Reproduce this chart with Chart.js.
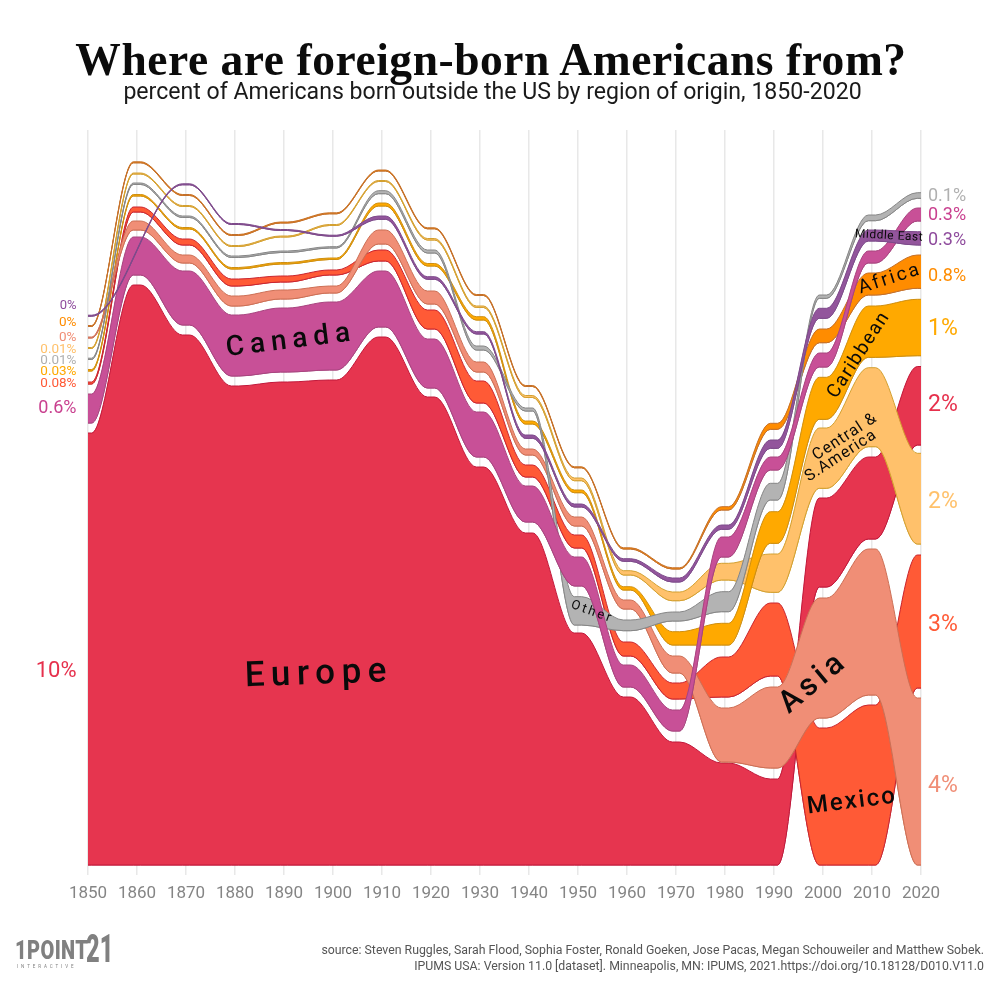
<!DOCTYPE html>
<html><head><meta charset="utf-8">
<style>
html,body{margin:0;padding:0;background:#fff;width:1000px;height:988px;overflow:hidden}
#c{position:absolute;left:0;top:0}
.t{position:absolute;white-space:nowrap}
#title{left:-9px;width:1000px;top:33px;text-align:center;font:bold 45.5px "Liberation Serif",serif;color:#0b0b0b;letter-spacing:.55px}
#sub{left:0;width:985px;top:78px;text-align:center;font:23.1px Roboto,sans-serif;color:#1a1a1a}
#src{right:16px;top:943px;text-align:right;font:12.3px/15.5px Roboto,sans-serif;color:#555}
#logo1{left:15px;top:936px;font:900 25px Roboto,sans-serif;color:#808080;transform:scaleX(.8);transform-origin:left top;letter-spacing:.5px}
#logo2{left:86px;top:927px;font:900 38px Roboto,sans-serif;color:#808080;transform:scaleX(.62);transform-origin:left top}
#logo3{left:17px;top:964px;font:4.5px Roboto,sans-serif;color:#808080;letter-spacing:2.9px}
</style></head><body>
<canvas id="c" width="1000" height="988"></canvas>
<div class="t" id="title">Where are foreign-born Americans from?</div>
<div class="t" id="sub">percent of Americans born outside the US by region of origin, 1850-2020</div>
<div class="t" id="src">source: Steven Ruggles, Sarah Flood, Sophia Foster, Ronald Goeken, Jose Pacas, Megan Schouweiler and Matthew Sobek.<br>IPUMS USA: Version 11.0 [dataset]. Minneapolis, MN: IPUMS, 2021.https://doi.org/10.18128/D010.V11.0</div>
<div class="t" id="logo1">1POINT</div><div class="t" id="logo2">21</div><div class="t" id="logo3">INTERACTIVE</div>
<script src="https://cdn.jsdelivr.net/npm/chart.js@4/dist/chart.umd.min.js"></script>
<script>
const decades=[1850,1860,1870,1880,1890,1900,1910,1920,1930,1940,1950,1960,1970,1980,1990,2000,2010,2020];
// Stream edges, in stack-height units (about 43 units = 1 percentage point)
const europeTop=[432,580,530,479,483,485,528,468,398,332,232,168,123,102,86,367,408,498.5];
const europeBot=[0,0,0,0,0,0,0,0,0,0,0,0,0,0,0,278,326,420];
const canadaTop=[471,628,594,550,557,563,594,526,453,379,308,200,155,328,408,512,614,657];
const canadaBot=[442,590,540,489,493,495,538,477,408,343,279,178,134,308,395,498,602,644];
const mexicoTop=[483,658,626,586,589,595,615,555,484,400,330,223,182,208,262,137,160,310];
const mexicoBot=[481,653,620,579,583,590,604,536,462,388,317,209,166,168,189,0,0,177];
const asiaTop=[528,644,610,569,575,579,635,574,503,416,348,265,209,157,178,267,316,167];
const asiaBot=[527,635,602,559,566,572,621,561,493,410,339,256,192,103,97,147,170,0];
const caribbeanTop=[495.5,670.5,637.5,597.5,602.5,607,662,601.5,548.3,444,375,278.3,233.3,241.7,353.3,487.7,559,565.7];
const caribbeanBot=[494,669,636,596,601,605.5,659,599,545,441,372.3,275,220,220,321.7,445.7,507.7,509.3];
const csaTop=[517.5,692,659.5,619.5,629,640.5,684.5,626.5,559,469.5,387,294.3,273,301.7,311,437,497.3,411.7];
const csaBot=[516.5,691,658.5,618.5,628,639.5,683.5,625,557.5,467.5,384.3,290,264.3,285,272.7,376.7,418.3,321];
const otherTop=[506.8,682,649,609,614,618.3,674.3,615,519,457,268.3,245,253,273.3,381.7,570,650,672.3];
const otherBot=[505.5,680.5,647.5,607.5,612.5,617,671.3,612,515,454,240,234.3,244,253.3,365,566.7,644.3,666.7];
const africaTop=[539.5,703.2,670.5,630.5,643,652.2,695,637.2,570.5,479.5,398.2,317.2,297.2,358.3,441.7,536,592,610];
const africaBot=[538.5,702.2,669.5,629.5,642,651.2,694,636.2,569.5,478.5,397.2,316,296,355,435.7,522.3,570,576.7];
const meTop=[549.8,null,681.2,641.5,635.5,629.8,649,588.3,533.3,430,361,306.3,287,340,425,556.7,635,633.3];
const meBot=[548.8,null,680.2,640.5,634.5,628.8,645.7,585.7,531,426.7,358,303.7,283,335.7,416.7,546.7,624,620];

const leftLabels=[["0%",306,13,"#8e4a9c"],["0%",322.5,13.5,"#ff8c00"],["0%",338,13.5,"#f08e76"],["0.01%",349.5,13.5,"#ffc16b"],["0.01%",361,13.5,"#b0b0b0"],["0.03%",372,13.5,"#ffa900"],["0.08%",384,13.5,"#ff5a36"],["0.6%",408,18,"#c9408f"],["10%",671,22,"#e6304c"]];
const rightLabels=[["0.1%",196,18,"#b0b0b0"],["0.3%",215,18,"#c9408f"],["0.3%",240,18,"#8e4a9c"],["0.8%",276,18,"#ff8c00"],["1%",329,23,"#ffa900"],["2%",405,23,"#e6304c"],["2%",502,23,"#ffc16b"],["3%",625,23,"#ff5a36"],["4%",786,23,"#f08e76"]];
const bandNames=[["Europe",319,675,-2,35,6.5],["Canada",291,341,-7,28,6],["Other",592,612,20,13,2.5],["Asia",814,683,-40,31,4.5],["Mexico",852,802,-7,24,2],["Central &",845,437,-33,16,1],["S.America",841,456,-33,16,1],["Caribbean",859,355,-57,19,1.5],["Africa",890,279,-18,19,2.5],["Middle East",889,236,3,12,.5]];

const HALF=0.75; // width of the flat stretch either side of each census year
function pts(v){
  const out=[];
  decades.forEach((d,i)=>{
    if(v[i]===null) return;
    if(d>decades[0]) out.push({x:d-HALF,y:v[i]});
    if(d<decades[decades.length-1]) out.push({x:d+HALF,y:v[i]});
    if(d===decades[0]) out.unshift({x:d,y:v[i]});
    if(d===decades[decades.length-1]) out.push({x:d,y:v[i]});
  });
  return out;
}
function band(name,top,bot,fill,line){
  const base={pointRadius:0,borderWidth:1,borderColor:line,cubicInterpolationMode:'monotone',clip:false,spanGaps:true};
  const t=pts(top),b=pts(bot);
  return [
    {...base,label:name+' lower edge',data:b,fill:false},
    {...base,label:name,data:t,fill:'+1',backgroundColor:fill},
    {...base,label:name+' base',data:b,fill:false}
  ];
}
// first datasets are drawn on top
const datasets=[
  ...band('Middle East',meTop,meBot,'#93559c','#7d4a8a'),
  ...band('Canada',canadaTop,canadaBot,'#c85097','#a8447f'),
  ...band('Other',otherTop,otherBot,'#b3b3b3','#868686'),
  ...band('Asia',asiaTop,asiaBot,'#f08e76','#cc6f55'),
  ...band('Caribbean',caribbeanTop,caribbeanBot,'#ffa900','#cf8f10'),
  ...band('Central & S.America',csaTop,csaBot,'#ffc16b','#d3a030'),
  ...band('Africa',africaTop,africaBot,'#ff8c00','#c4702a'),
  ...band('Mexico',mexicoTop,mexicoBot,'#ff5a36','#c9252f'),
  ...band('Europe',europeTop,europeBot,'#e6354f','#c1183a')
];
const textPlugin={id:'texts',afterDatasetsDraw(ch){
  const c=ch.ctx;c.save();
  c.textBaseline='middle';
  c.textAlign='right';
  leftLabels.forEach(l=>{c.font=l[2]+'px Roboto';c.fillStyle=l[3];c.fillText(l[0],76.5,l[1]);});
  c.textAlign='left';
  rightLabels.forEach(l=>{c.font=l[2]+'px Roboto';c.fillStyle=l[3];c.fillText(l[0],928,l[1]);});
  c.textAlign='center';c.fillStyle='#0a0a0a';
  bandNames.forEach(b=>{
    c.save();c.translate(b[1],b[2]);c.rotate(b[3]*Math.PI/180);
    c.font=(b[4]>=24?'500 ':'')+b[4]+'px Roboto';c.letterSpacing=b[5]+'px';
    c.fillText(b[0],0,0);c.restore();
  });
  c.restore();
}};
new Chart(document.getElementById('c'),{
  type:'line',
  data:{datasets},
  plugins:[textPlugin],
  options:{
    responsive:false,animation:false,
    devicePixelRatio:1,
    layout:{padding:{left:88,right:79,top:130,bottom:0}},
    plugins:{legend:{display:false},tooltip:{enabled:false},title:{display:false}},
    scales:{
      x:{type:'linear',min:1850,max:2020,
        afterFit(s){s.height=123;},
        border:{display:false},
        grid:{color:'#e8e8e8',lineWidth:1.5,tickLength:10,drawTicks:true},
        ticks:{stepSize:10,padding:9,maxRotation:0,autoSkip:false,color:'#858585',font:{family:'Roboto',size:17},callback:v=>String(v)}},
      y:{display:false,min:0,max:735}
    }
  }
});
</script></body></html>
